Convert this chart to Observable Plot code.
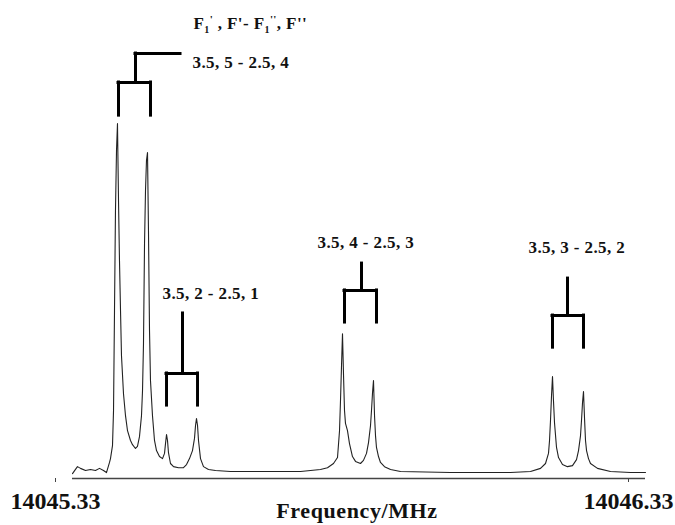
<!DOCTYPE html>
<html>
<head>
<meta charset="utf-8">
<script src="https://cdn.jsdelivr.net/npm/d3@7"></script>
<script src="https://cdn.jsdelivr.net/npm/@observablehq/plot@0.6"></script>
<style>
  html, body { margin: 0; padding: 0; background: #fff; }
</style>
</head>
<body>
<div id="chart"></div>
<script>
// Spectrum: frequency (MHz) and relative intensity
const freq = [
  14045.3300, 14045.3352, 14045.3387, 14045.3440, 14045.3527, 14045.3614, 14045.3701, 14045.3771,
  14045.3841, 14045.3893, 14045.3946, 14045.3963, 14045.3998, 14045.4016, 14045.4033, 14045.4050,
  14045.4068, 14045.4085, 14045.4103, 14045.4120, 14045.4138, 14045.4155, 14045.4190, 14045.4225,
  14045.4260, 14045.4312, 14045.4347, 14045.4399, 14045.4434, 14045.4469, 14045.4504, 14045.4522,
  14045.4539, 14045.4557, 14045.4574, 14045.4591, 14045.4609, 14045.4626, 14045.4644, 14045.4661,
  14045.4696, 14045.4731, 14045.4766, 14045.4818, 14045.4871, 14045.4906, 14045.4923, 14045.4941,
  14045.4958, 14045.4975, 14045.5010, 14045.5063, 14045.5150, 14045.5237, 14045.5290, 14045.5342,
  14045.5394, 14045.5429, 14045.5447, 14045.5464, 14045.5482, 14045.5499, 14045.5534, 14045.5586,
  14045.5673, 14045.5796, 14045.6057, 14045.6581, 14045.7279, 14045.7628, 14045.7750, 14045.7855,
  14045.7925, 14045.7960, 14045.7977, 14045.7995, 14045.8012, 14045.8030, 14045.8047, 14045.8064,
  14045.8099, 14045.8134, 14045.8186, 14045.8239, 14045.8326, 14045.8378, 14045.8431, 14045.8466,
  14045.8501, 14045.8518, 14045.8536, 14045.8553, 14045.8571, 14045.8588, 14045.8605, 14045.8640,
  14045.8675, 14045.8745, 14045.8850, 14045.9024, 14045.9897, 14046.0944, 14046.1293, 14046.1468,
  14046.1555, 14046.1607, 14046.1625, 14046.1642, 14046.1660, 14046.1677, 14046.1694, 14046.1712,
  14046.1747, 14046.1782, 14046.1851, 14046.1938, 14046.2026, 14046.2096, 14046.2131, 14046.2166,
  14046.2183, 14046.2201, 14046.2218, 14046.2236, 14046.2253, 14046.2271, 14046.2305, 14046.2340,
  14046.2462, 14046.2689, 14046.3038, 14046.3300
];
const intensity = [
  -0.6, 0.6, 1.4, 0.9, 0.3, 0.6, 0.3, 0.9,
  0.3, -0.3, 2.6, 3.7, 7.4, 17.5, 46.1, 74.8,
  92.0, 99.7, 77.7, 60.5, 46.1, 33.2, 22.3, 16.0,
  11.7, 8.9, 7.7, 6.6, 7.2, 10.0, 16.0, 23.2,
  36.7, 65.3, 80.5, 89.1, 91.4, 69.1, 40.4, 26.1,
  16.0, 8.9, 6.0, 4.3, 3.7, 5.2, 8.0, 10.6,
  8.9, 5.4, 2.3, 1.4, 1.1, 1.1, 2.0, 3.7,
  6.0, 9.5, 13.2, 15.2, 13.2, 8.9, 3.7, 1.4,
  0.6, 0.3, 0.0, 0.0, 0.0, 0.6, 1.1, 2.3,
  4.0, 11.7, 20.3, 30.4, 39.5, 27.5, 17.5, 13.8,
  11.7, 8.0, 4.3, 2.9, 2.3, 3.2, 5.2, 8.3,
  13.2, 17.5, 22.6, 26.1, 16.0, 10.3, 6.9, 4.3,
  2.6, 1.4, 0.6, 0.0, -0.3, -0.3, 0.0, 0.9,
  2.3, 5.2, 8.9, 14.6, 21.8, 27.2, 20.3, 14.0,
  6.9, 4.0, 2.0, 1.4, 1.7, 3.4, 6.0, 10.3,
  14.6, 19.8, 22.9, 15.2, 8.9, 6.0, 3.7, 2.3,
  0.9, 0.0, -0.3, -0.3
];

// Axis
const axisTicks = [14045.33, 14046.33];
const axisLabel = "Frequency/MHz";

// Doublet annotations (brackets)
const bracketLeft     = [14045.4103, 14045.4941, 14045.8047, 14046.1677];
const bracketRight    = [14045.4661, 14045.5482, 14045.8605, 14046.2218];
const bracketStem     = [14045.4399, 14045.5220, 14045.8344, 14046.1939];
const bracketLegLow   = [102.0, 18.9, 42.7, 35.5];
const bracketBar      = [111.5, 28.1, 51.9, 44.7];
const bracketStemTop  = [119.8, 45.3, 59.6, 55.3];
const bracketArmEnd   = [14045.5185, null, null, null];

// Labels
const labelText = ["F1', F'- F1'', F''", "3.5, 5 - 2.5, 4", "3.5, 2 - 2.5, 1", "3.5, 4 - 2.5, 3", "3.5, 3 - 2.5, 2"];
const labelFreq = [14045.5411, 14045.5394, 14045.4871, 14045.7576, 14046.1258];
const labelInt  = [128.4, 117.2, 51.0, 65.6, 64.2];

const spectrum = freq.map((f, i) => ({f, v: intensity[i]}));
const brackets = bracketLeft.map((l, i) => ({
  l, r: bracketRight[i], s: bracketStem[i], low: bracketLegLow[i],
  bar: bracketBar[i], top: bracketStemTop[i], arm: bracketArmEnd[i]
}));
const labels = labelText.map((t, i) => ({t, f: labelFreq[i], v: labelInt[i]}));

const serif = "'Liberation Serif', 'Times New Roman', Times, serif";
const bw = 3;

const svg = Plot.plot({
  width: 675,
  height: 525,
  marginLeft: 72,
  marginRight: 30,
  marginTop: 0,
  marginBottom: 47,
  style: {fontFamily: serif, fontWeight: "bold", background: "#fff", color: "#111"},
  x: {domain: [14045.33, 14046.33]},
  y: {domain: [-2, 135], axis: null},
  marks: [
    Plot.ruleY([-2], {stroke: "#444", strokeWidth: 1.5}),
    Plot.axisX({
      ticks: axisTicks,
      tickFormat: d => d.toFixed(2),
      tickSize: 4,
      tickPadding: 9,
      fontSize: 24,
      fontWeight: "bold",
      fontFamily: serif,
      dx: -17,
      stroke: "#444",
      fill: "#111",
      label: null
    }),
    Plot.text([axisLabel], {
      frameAnchor: "bottom",
      dy: 39, dx: -2,
      fontSize: 22,
      fontWeight: "bold",
      fontFamily: serif,
      fill: "#111"
    }),
    Plot.line(spectrum, {x: "f", y: "v", stroke: "#222", strokeWidth: 1.1}),
    // bracket legs
    Plot.ruleX(brackets, {x: "l", y1: "low", y2: "bar", stroke: "#000", strokeWidth: bw, strokeLinecap: "square"}),
    Plot.ruleX(brackets, {x: "r", y1: "low", y2: "bar", stroke: "#000", strokeWidth: bw, strokeLinecap: "square"}),
    // cross bar
    Plot.ruleY(brackets, {y: "bar", x1: "l", x2: "r", stroke: "#000", strokeWidth: bw, strokeLinecap: "square"}),
    // stem
    Plot.ruleX(brackets, {x: "s", y1: "bar", y2: "top", stroke: "#000", strokeWidth: bw, strokeLinecap: "square"}),
    // arm toward label
    Plot.ruleY(brackets.filter(d => d.arm != null), {y: "top", x1: "s", x2: "arm", stroke: "#000", strokeWidth: bw, strokeLinecap: "square"}),
    Plot.text(labels, {
      x: "f", y: "v", text: "t",
      textAnchor: "start",
      fontSize: 17,
      fontWeight: "bold",
      fontFamily: serif,
      fill: "#111"
    })
  ]
});

// letter spacing and sub/superscripts for the annotation labels
d3.select(svg).selectAll("text").each(function() {
  const t = d3.select(this);
  const s = t.text();
  if (labelText.includes(s)) t.attr("letter-spacing", "0.4px");
  if (s === axisLabel) t.attr("letter-spacing", "0.6px");
  if (s === labelText[0]) {
    t.text(null);
    const parts = [
      {s: "F"},
      {s: "1", fs: 10, dy: 4},
      {s: "'", fs: 11, dx: 0, dy: -10},
      {s: " , F'- F", dy: 6},
      {s: "1", fs: 10, dy: 4},
      {s: "''", fs: 11, dx: 0, dy: -10},
      {s: ", F''", dy: 6}
    ];
    for (const p of parts) {
      const ts = t.append("tspan").text(p.s);
      if (p.fs) ts.attr("font-size", p.fs);
      if (p.dx) ts.attr("dx", p.dx);
      if (p.dy) ts.attr("dy", p.dy);
    }
  }
});

document.getElementById("chart").appendChild(svg);
</script>
</body>
</html>
